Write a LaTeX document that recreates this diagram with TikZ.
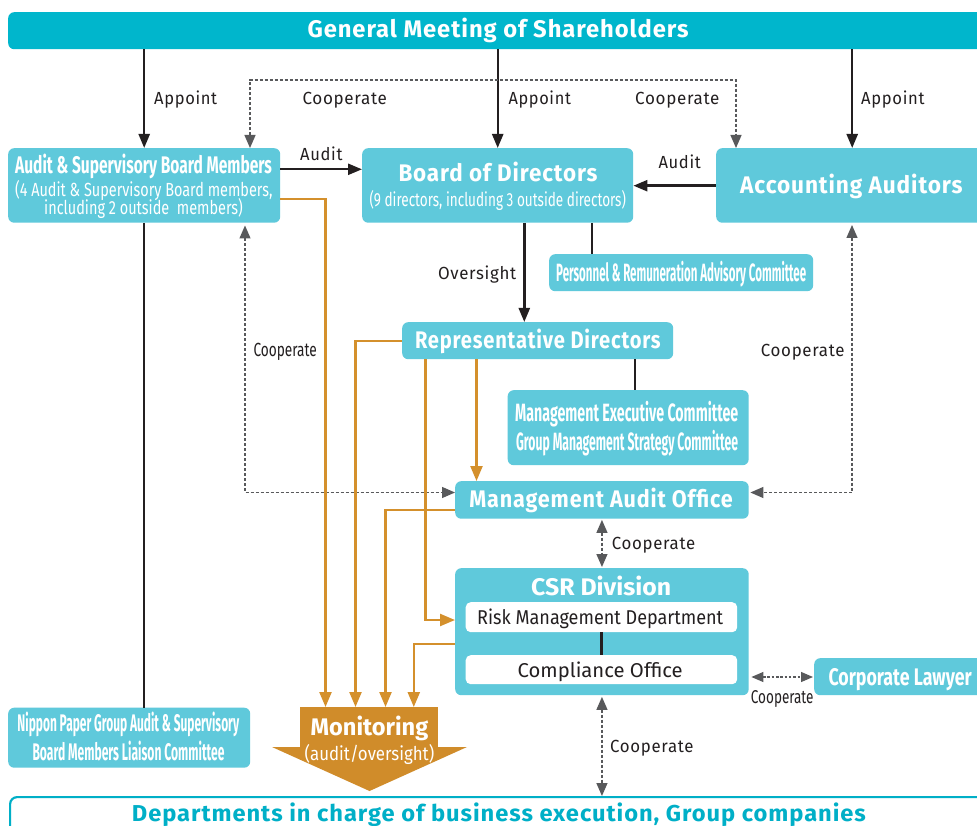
\documentclass[tikz,border=0pt]{standalone}
\usepackage{fontspec}
\usepackage{graphicx}
\setmainfont{Fira Sans}
\newfontfamily\spfont[LetterSpace=4]{Fira Sans}
\usetikzlibrary{arrows.meta}
\definecolor{gmc}{HTML}{00B6CC}
\definecolor{boxc}{HTML}{5FC9DB}
\definecolor{orc}{HTML}{D4902C}
\definecolor{monc}{HTML}{D08C2A}
\definecolor{dk}{HTML}{231F20}
\definecolor{gr}{HTML}{58595B}
\definecolor{depc}{HTML}{00AFC7}
\newcommand\fw[2]{\resizebox{#1pt}{\height}{#2}}
\newcommand\fs[1]{\fontsize{#1}{#1}\selectfont}
\tikzset{
  box/.style={fill=boxc, rounded corners=6pt, inner sep=0pt, anchor=north west, draw=none},
  wbox/.style={fill=white, rounded corners=5pt, inner sep=0pt, anchor=north west, draw=none},
  tx/.style={inner sep=0pt, anchor=base west, text=white},
  lb/.style={inner sep=0pt, anchor=base west, text=dk},
  arr/.style={draw=dk, line width=2.4pt, -{Triangle[length=14pt,width=11pt]}},
  ln/.style={draw=dk, line width=2.2pt},
  coop/.style={draw=gr, line width=1.3pt, dash pattern=on 3pt off 2pt, {Triangle[length=13pt,width=11pt]}-{Triangle[length=13pt,width=11pt]}},
  coops/.style={draw=gr, line width=1.3pt, dash pattern=on 3pt off 2pt, {Triangle[length=12pt,width=10pt]}-{Triangle[length=12pt,width=10pt]}},
  oarr/.style={draw=orc, line width=2.3pt, -{Triangle[length=15pt,width=12pt]}},
}
\begin{document}
\begin{tikzpicture}[x=1pt,y=-1pt]
\useasboundingbox (0,0) rectangle (977,826);
\clip (0,0) rectangle (977,826);
\fill[white] (0,0) rectangle (977,826);

% boxes
\node[box, fill=gmc, minimum width=982pt, minimum height=37pt] (gm) at (8,12) {};
\node[box, minimum width=272pt, minimum height=74.5pt] (asb) at (8,148) {};
\node[box, minimum width=271pt, minimum height=74.5pt] (bod) at (362,148) {};
\node[box, minimum width=272pt, minimum height=74.5pt] (acc) at (716,148) {};
\node[box, minimum width=264pt, minimum height=37pt] (prc) at (549,254) {};
\node[box, minimum width=271pt, minimum height=37pt] (rep) at (402,322) {};
\node[box, minimum width=241pt, minimum height=75pt] (mec) at (507.5,390) {};
\node[box, minimum width=293.5pt, minimum height=37.5pt] (mao) at (455,481) {};
\node[box, minimum width=293.5pt, minimum height=127pt] (csr) at (455,568) {};
\node[wbox, minimum width=271.5pt, minimum height=30pt] (risk) at (465.5,602) {};
\node[wbox, minimum width=271.5pt, minimum height=29pt] (comp) at (465.5,655) {};
\node[box, minimum width=175pt, minimum height=37pt] (law) at (814,658) {};
\node[box, minimum width=242pt, minimum height=60pt] (npg) at (8,707.5) {};
\node[box, fill=monc, rounded corners=0pt, minimum width=138pt, minimum height=40.5pt] (mon) at (300,707) {};
\fill[monc] (272,747) -- (467,747) -- (369.5,791) -- cycle;
\node[box, fill=white, draw=depc, line width=2.2pt, rounded corners=7pt, minimum width=990pt, minimum height=60pt] (dep) at (9,796) {};

% texts in boxes
\node[tx] (tgm) at (307.3,38) {\fw{381}{\spfont\bfseries\fs{24}General Meeting of Shareholders}};
\node[tx] (tasb1) at (15,173.3) {\fw{256.7}{\bfseries\fs{24}Audit \& Supervisory Board Members}};
\node[tx] (tasb2) at (15,196.5) {\fw{257.3}{\fs{19}(4 Audit \& Supervisory Board members,}};
\node[tx] (tasb3) at (44,215) {\fw{198.7}{\fs{19}including 2 outside\ \ members)}};
\node[tx] (tbod1) at (398.3,181.7) {\fw{199}{\spfont\bfseries\fs{24}Board of Directors}};
\node[tx] (tbod2) at (369.3,206.7) {\fw{256.4}{\fs{19}(9 directors, including 3 outside directors)}};
\node[tx] (tacc) at (740,193.5) {\fw{222.3}{\spfont\bfseries\fs{24}Accounting Auditors}};
\node[tx] (tprc) at (556,281) {\fw{250}{\bfseries\fs{25}Personnel \& Remuneration Advisory Committee}};
\node[tx] (trep) at (414.8,348.3) {\fw{245.7}{\spfont\bfseries\fs{24}Representative Directors}};
\node[tx] (tmec1) at (515,421.7) {\fw{223}{\bfseries\fs{25}Management Executive Committee}};
\node[tx] (tmec2) at (515.9,450.7) {\fw{222}{\bfseries\fs{25}Group Management Strategy Committee}};
\node[tx] (tmao) at (469.2,507.3) {\fw{263.3}{\spfont\bfseries\fs{24}Management Audit Office}};
\node[tx] (tcsr) at (531,595) {\fw{140}{\bfseries\fs{24}CSR Division}};
\node[lb] (trisk) at (477,624) {\fw{246}{\fs{20}Risk Management Department}};
\node[lb] (tcomp) at (517.5,677.3) {\fw{165}{\fs{20}Compliance Office}};
\node[tx] (tlaw) at (828.3,685) {\fw{143.3}{\bfseries\fs{24}Corporate Lawyer}};
\node[tx] (tmon1) at (310.5,735) {\fw{117.5}{\bfseries\fs{24}Monitoring}};
\node[tx] (tmon2) at (304.5,760) {\fw{129.5}{\fs{19}(audit/oversight)}};
\node[tx] (tnpg1) at (17.3,731.7) {\fw{221.7}{\bfseries\fs{24}Nippon Paper Group Audit \& Supervisory}};
\node[tx] (tnpg2) at (32.3,760) {\fw{192}{\bfseries\fs{24}Board Members Liaison Committee}};
\node[tx, text=depc] (tdep) at (131.7,821) {\fw{734}{\spfont\bfseries\fs{23}Departments in charge of business execution, Group companies}};

% labels
\node[lb] (la1) at (154,104.3) {\fw{63}{\spfont\fs{17.5}Appoint}};
\node[lb] (la2) at (508.3,104.3) {\fw{62.4}{\spfont\fs{17.5}Appoint}};
\node[lb] (la3) at (861,104.3) {\fw{63.3}{\spfont\fs{17.5}Appoint}};
\node[lb] (lc1) at (302.3,105) {\fw{84.4}{\spfont\fs{17.5}Cooperate}};
\node[lb] (lc2) at (635,105) {\fw{84.3}{\spfont\fs{17.5}Cooperate}};
\node[lb] (lau1) at (300,160.7) {\fw{42.3}{\spfont\fs{17.5}Audit}};
\node[lb] (lau2) at (658.3,169) {\fw{42.3}{\spfont\fs{17.5}Audit}};
\node[lb] (lov) at (437.8,279.3) {\fw{78.2}{\spfont\fs{17.5}Oversight}};
\node[lb] (lc3) at (253.3,356.7) {\fw{63.3}{\fs{19}Cooperate}};
\node[lb] (lc4) at (760.7,356) {\fw{83.6}{\spfont\fs{17.5}Cooperate}};
\node[lb] (lc5) at (611.6,549.3) {\fw{83.4}{\spfont\fs{17.5}Cooperate}};
\node[lb] (lc6) at (610,752.3) {\fw{83.3}{\spfont\fs{17.5}Cooperate}};
\node[lb] (lc7) at (750.7,703.3) {\fw{62.6}{\fs{18.5}Cooperate}};

% helper coordinates
\coordinate (c1) at (250,80);
\coordinate (c2) at (736,80);
\coordinate (c3) at (245,492.5);
\coordinate (c4) at (852,492.5);

% black arrows and lines
\draw[arr] (gm.south -| asb.north) -- (asb.north);
\draw[arr] (gm.south -| bod.north) -- (bod.north);
\draw[arr] (gm.south -| acc.north) -- (acc.north);
\draw[arr] (asb.east |- 0,169.3) -- (bod.west |- 0,169.3);
\draw[arr] (acc.west |- 0,185.7) -- (bod.east |- 0,185.7);
\draw[arr] (524.3,0 |- bod.south) -- (524.3,0 |- rep.north);
\draw[ln] (591.7,0 |- bod.south) -- (591.7,0 |- prc.north);
\draw[ln] (635.3,0 |- rep.south) -- (635.3,0 |- mec.north);
\draw[ln] (asb.south) -- (asb.south |- npg.north);
\draw[ln] (risk.south) -- (comp.north);

% dashed cooperate
\draw[coop] (c1 |- asb.north) -- (c1) -- (c2) -- (c2 |- acc.north);
\draw[coop] (245,225.5) -- (c3) -- (mao.west |- c3);
\draw[coop] (852,225) -- (c4) -- ([xshift=1.5pt]mao.east |- c4);
\draw[coop] ([yshift=-1pt]mao.south) -- ([yshift=1pt]csr.north);
\draw[coop] ([yshift=-1.5pt]csr.south) -- (csr.south |- dep.north);
\draw[coops, dash pattern=on 2.5pt off 1.8pt, line width=1.1pt] ([xshift=2.5pt]csr.east |- 0,677) -- ([xshift=-1pt]law.west |- 0,677);

% orange monitoring lines
\draw[oarr] (asb.east |- 0,199.3) -| (325.5,0 |- mon.north);
\draw[oarr] (rep.west |- 0,340.7) -| (355.5,0 |- mon.north);
\draw[oarr] (425.5,0 |- rep.south) |- (csr.west |- 0,620);
\draw[oarr] (476.5,0 |- rep.south) -- (476.5,0 |- mao.north);
\draw[oarr] (mao.west |- 0,510) -| (385.5,0 |- mon.north);
\draw[oarr] (csr.west |- 0,644) -| (413.8,0 |- mon.north);
\end{tikzpicture}
\end{document}
